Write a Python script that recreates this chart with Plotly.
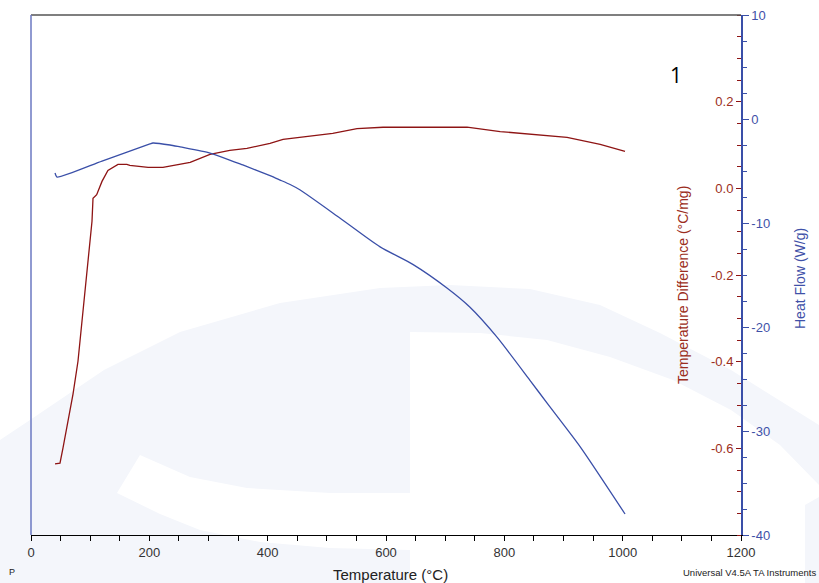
import numpy as np
import plotly.graph_objects as go

# Heat flow trace (W/g) vs temperature (°C)
hf_temp = [40.6, 43.9, 120, 201, 206, 235, 252, 302.5, 358, 404, 421, 438, 455,
           522, 590, 646, 703, 742, 788, 843, 872, 928, 1004]
heat_flow = [-5.19, -5.58, -4.05, -2.40, -2.31, -2.5, -2.69, -3.27, -4.42,
             -5.45, -5.87, -6.30, -6.83, -9.52, -12.3, -14.0, -16.25, -18.1,
             -21.0, -25.1, -27.3, -31.5, -37.98]

# Temperature difference trace (°C/mg) vs temperature (°C)
td_temp = [40.6, 49.0, 54.1, 62.5, 71.0, 79.4, 86.2, 91.3, 96.3, 103.1, 104.8,
           111, 120, 130, 147, 162, 167, 198, 223, 247, 269, 302.5, 336, 365,
           404, 426, 466, 510, 551, 595, 657, 737, 793, 848, 906, 962, 1004]
temp_diff = [-0.636, -0.634, -0.599, -0.537, -0.475, -0.399, -0.307, -0.221,
             -0.161, -0.076, -0.023, -0.0146, 0.016, 0.0415, 0.0553, 0.0553,
             0.053, 0.0484, 0.0484, 0.0553, 0.0599, 0.0784, 0.0876, 0.0922,
             0.1037, 0.113, 0.120, 0.127, 0.138, 0.141, 0.141, 0.141, 0.131,
             0.1245, 0.1176, 0.1014, 0.0853]

# Tick labels
x_ticks = [0, 200, 400, 600, 800, 1000, 1200]
td_ticks = [-0.6, -0.4, -0.2, 0.0, 0.2]
td_ticktext = ["-0.6", "-0.4", "-0.2", "0.0", "0.2"]
hf_ticks = [-40, -30, -20, -10, 0, 10]
hf_ticktext = ["-40", "-30", "-20", "-10", "0", "10"]

RED = "#8e1414"
RED_TXT = "#9b2d20"
BLUE = "#3a4fa8"
BLUE_TXT = "#3f51a8"
WM = "rgb(244,246,251)"
FONT = "Liberation Sans, Arial, sans-serif"

W, H = 819, 583
L, R, T, B = 31, 741, 15, 535


def px(x, y):
    """Pixel position on the page -> paper coordinates."""
    return (x - L) / (R - L), (B - y) / (B - T)


def path(points):
    pts = [px(x, y) for x, y in points]
    d = "M {:.4f},{:.4f} ".format(*pts[0])
    d += " ".join("L {:.4f},{:.4f}".format(a, b) for a, b in pts[1:])
    return d + " Z"


# faint background logo
outer = [(0, 440), (30, 420), (104, 370), (180, 332), (280, 303), (380, 288),
         (450, 285), (530, 289), (600, 305), (660, 333), (731, 370), (819, 425),
         (819, 583), (0, 583)]
inner_white = [(410, 332), (480, 333), (547, 340), (610, 357), (673, 380),
               (731, 410), (780, 445), (819, 485), (819, 497), (805, 505),
               (805, 583), (410, 583)]
swoosh_white = [(140, 455), (190, 477), (247, 488), (330, 493), (410, 493),
                (410, 550), (330, 548), (260, 542), (200, 530), (160, 514),
                (117, 493)]

shapes = [
    dict(type="path", path=path(outer), xref="paper", yref="paper",
         fillcolor=WM, line=dict(width=0), layer="below"),
    dict(type="path", path=path(inner_white), xref="paper", yref="paper",
         fillcolor="white", line=dict(width=0), layer="below"),
    dict(type="path", path=path(swoosh_white), xref="paper", yref="paper",
         fillcolor="white", line=dict(width=0), layer="below"),
    # frame: top and left edges
    dict(type="line", xref="paper", yref="paper", x0=0, x1=1, y0=1, y1=1,
         line=dict(color="#555555", width=1.3)),
    dict(type="line", xref="paper", yref="paper", x0=0, x1=0, y0=0, y1=1,
         line=dict(color="#6b78c2", width=1.5)),
]

fig = go.Figure()
fig.add_trace(go.Scatter(x=hf_temp, y=heat_flow, yaxis="y2", mode="lines",
                         line=dict(color=BLUE, width=1.3, shape="spline",
                                   smoothing=0.6),
                         showlegend=False))
fig.add_trace(go.Scatter(x=td_temp, y=temp_diff, yaxis="y", mode="lines",
                         line=dict(color=RED, width=1.3), showlegend=False))

annotations = [
    dict(text="1", x=px(676, 75)[0], y=px(676, 75)[1], showarrow=False,
         font=dict(family="Open Sans, sans-serif", size=21, color="black")),
    dict(text="Temperature Difference (°C/mg)", x=px(683, 285)[0],
         y=px(683, 285)[1], textangle=-90, showarrow=False,
         font=dict(family=FONT, size=14, color=RED_TXT)),
    dict(text="Heat Flow (W/g)", x=px(800, 278)[0], y=px(800, 278)[1],
         textangle=-90, showarrow=False,
         font=dict(family=FONT, size=14, color=BLUE_TXT)),
    dict(text="Temperature (°C)", x=px(390, 574)[0], y=px(390, 574)[1],
         showarrow=False, font=dict(family=FONT, size=15, color="#222222")),
    dict(text="Universal V4.5A TA Instruments", x=px(818, 572)[0],
         y=px(818, 572)[1], xanchor="right", showarrow=False,
         font=dict(family=FONT, size=9.5, color="#222222")),
    dict(text="P", x=px(12, 572)[0], y=px(12, 572)[1], showarrow=False,
         font=dict(family=FONT, size=9, color="#222222")),
]
for a in annotations:
    a.update(xref="paper", yref="paper")
    a.setdefault("xanchor", "center")
    a.setdefault("yanchor", "middle")

fig.update_layout(
    width=W, height=H,
    margin=dict(l=L, r=W - R, t=T, b=H - B, autoexpand=False),
    paper_bgcolor="white",
    plot_bgcolor="rgba(0,0,0,0)",
    font=dict(family=FONT, size=13),
    shapes=shapes,
    annotations=annotations,
    xaxis=dict(range=[0, 1200], domain=[0, 1], tickvals=x_ticks,
               showgrid=False, automargin=False,
               zeroline=False, showline=True, linecolor="black", linewidth=1.3,
               ticks="outside", ticklen=5, tickcolor="black", tickwidth=1,
               minor=dict(dtick=50, ticks="outside", ticklen=5,
                          tickcolor="black", tickwidth=1),
               tickfont=dict(size=13, color="#333333")),
    # temperature-difference scale: sits on the right frame edge, labels inward
    yaxis=dict(range=[-0.8, 0.4], side="left", anchor="free", position=1,
               tickvals=td_ticks, ticktext=td_ticktext, showgrid=False,
               automargin=False,
               zeroline=False, showline=False, ticks="outside", ticklen=5,
               tickcolor=RED, tickwidth=1.2,
               minor=dict(tickvals=list(np.round(np.arange(-0.8, 0.401, 0.05), 2)),
                          ticks="outside", ticklen=4, tickcolor=RED, tickwidth=1),
               tickfont=dict(size=13, color=RED_TXT)),
    yaxis2=dict(range=[-40, 10], side="right", overlaying="y", anchor="x",
                tickvals=hf_ticks, ticktext=hf_ticktext, showgrid=False,
                automargin=False,
                zeroline=False, showline=True, linecolor=BLUE, linewidth=1.5,
                ticks="outside", ticklen=6, tickcolor=BLUE, tickwidth=1.2,
                minor=dict(dtick=2.5, ticks="outside", ticklen=4,
                           tickcolor=BLUE, tickwidth=1),
                tickfont=dict(size=13, color=BLUE_TXT)),
)

fig.write_html("out.html")
